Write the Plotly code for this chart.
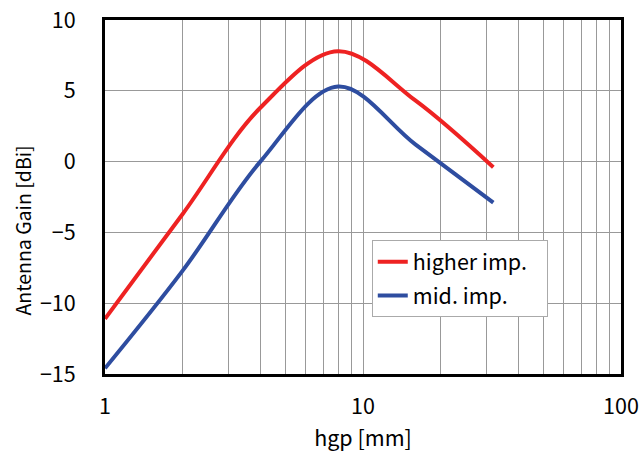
import plotly.graph_objects as go

hgp = [1, 2, 4, 8, 16, 32]
gain_higher = [-11.1, -3.7, 3.8, 7.8, 4.3, -0.4]
gain_mid = [-14.6, -7.7, 0.0, 5.3, 1.2, -2.9]
names = ["higher imp.", "mid. imp."]
colors = ["#EE2222", "#2E4DA0"]

FONT = "Noto Sans CJK JP"
FS = 21.5

fig = go.Figure()
for i, (y, n, c) in enumerate(zip([gain_higher, gain_mid], names, colors)):
    fig.add_trace(go.Scatter(x=hgp, y=y, name=n + "\u00a0\u00a0\u00a0", mode="lines",
                             line=dict(color=c, width=4, shape="spline", smoothing=1.0),
                             legendgroup=str(i)))

fig.update_layout(
    width=641, height=452,
    margin=dict(l=105, r=20, t=20, b=78),
    paper_bgcolor="white", plot_bgcolor="white",
    font=dict(family=FONT, size=FS, color="black"),
    showlegend=True,
    legend=dict(x=0.517, y=0.378, xanchor="left", yanchor="top",
                bordercolor="#AAAAAA", borderwidth=1, bgcolor="white",
                font=dict(family=FONT, size=FS), itemwidth=30,
                tracegroupgap=3, traceorder="grouped"),
    xaxis=dict(type="log", range=[0, 2], automargin=False,
               tickvals=[1, 10, 100], ticktext=["1", "10", "100"],
               showgrid=True, gridcolor="#999999", gridwidth=1,
               minor=dict(showgrid=True, gridcolor="#999999", gridwidth=1,
                          tickvals=[2, 3, 4, 5, 6, 7, 8, 9, 20, 30, 40, 50, 60, 70, 80, 90]),
               showline=True, linecolor="black", linewidth=3, mirror=True,
               ticks="", ticklabelstandoff=11,
               title=dict(text="hgp [mm]", font=dict(size=FS), standoff=16),
               zeroline=False),
    yaxis=dict(range=[-15, 10], tickvals=[-15, -10, -5, 0, 5, 10], automargin=False,
               ticktext=["\u221215", "\u221210", "\u22125", "0", "5", "10"],
               showgrid=True, gridcolor="#999999", gridwidth=1,
               showline=True, linecolor="black", linewidth=3, mirror=True,
               ticks="", ticklabelstandoff=22,
               zeroline=False),
    annotations=[dict(text="Antenna Gain [dBi]", textangle=-90, showarrow=False,
                      xref="paper", yref="paper", x=-0.159, y=0.405,
                      xanchor="center", yanchor="middle",
                      font=dict(family=FONT, size=19.5))],
)

fig.write_html("out.html")
